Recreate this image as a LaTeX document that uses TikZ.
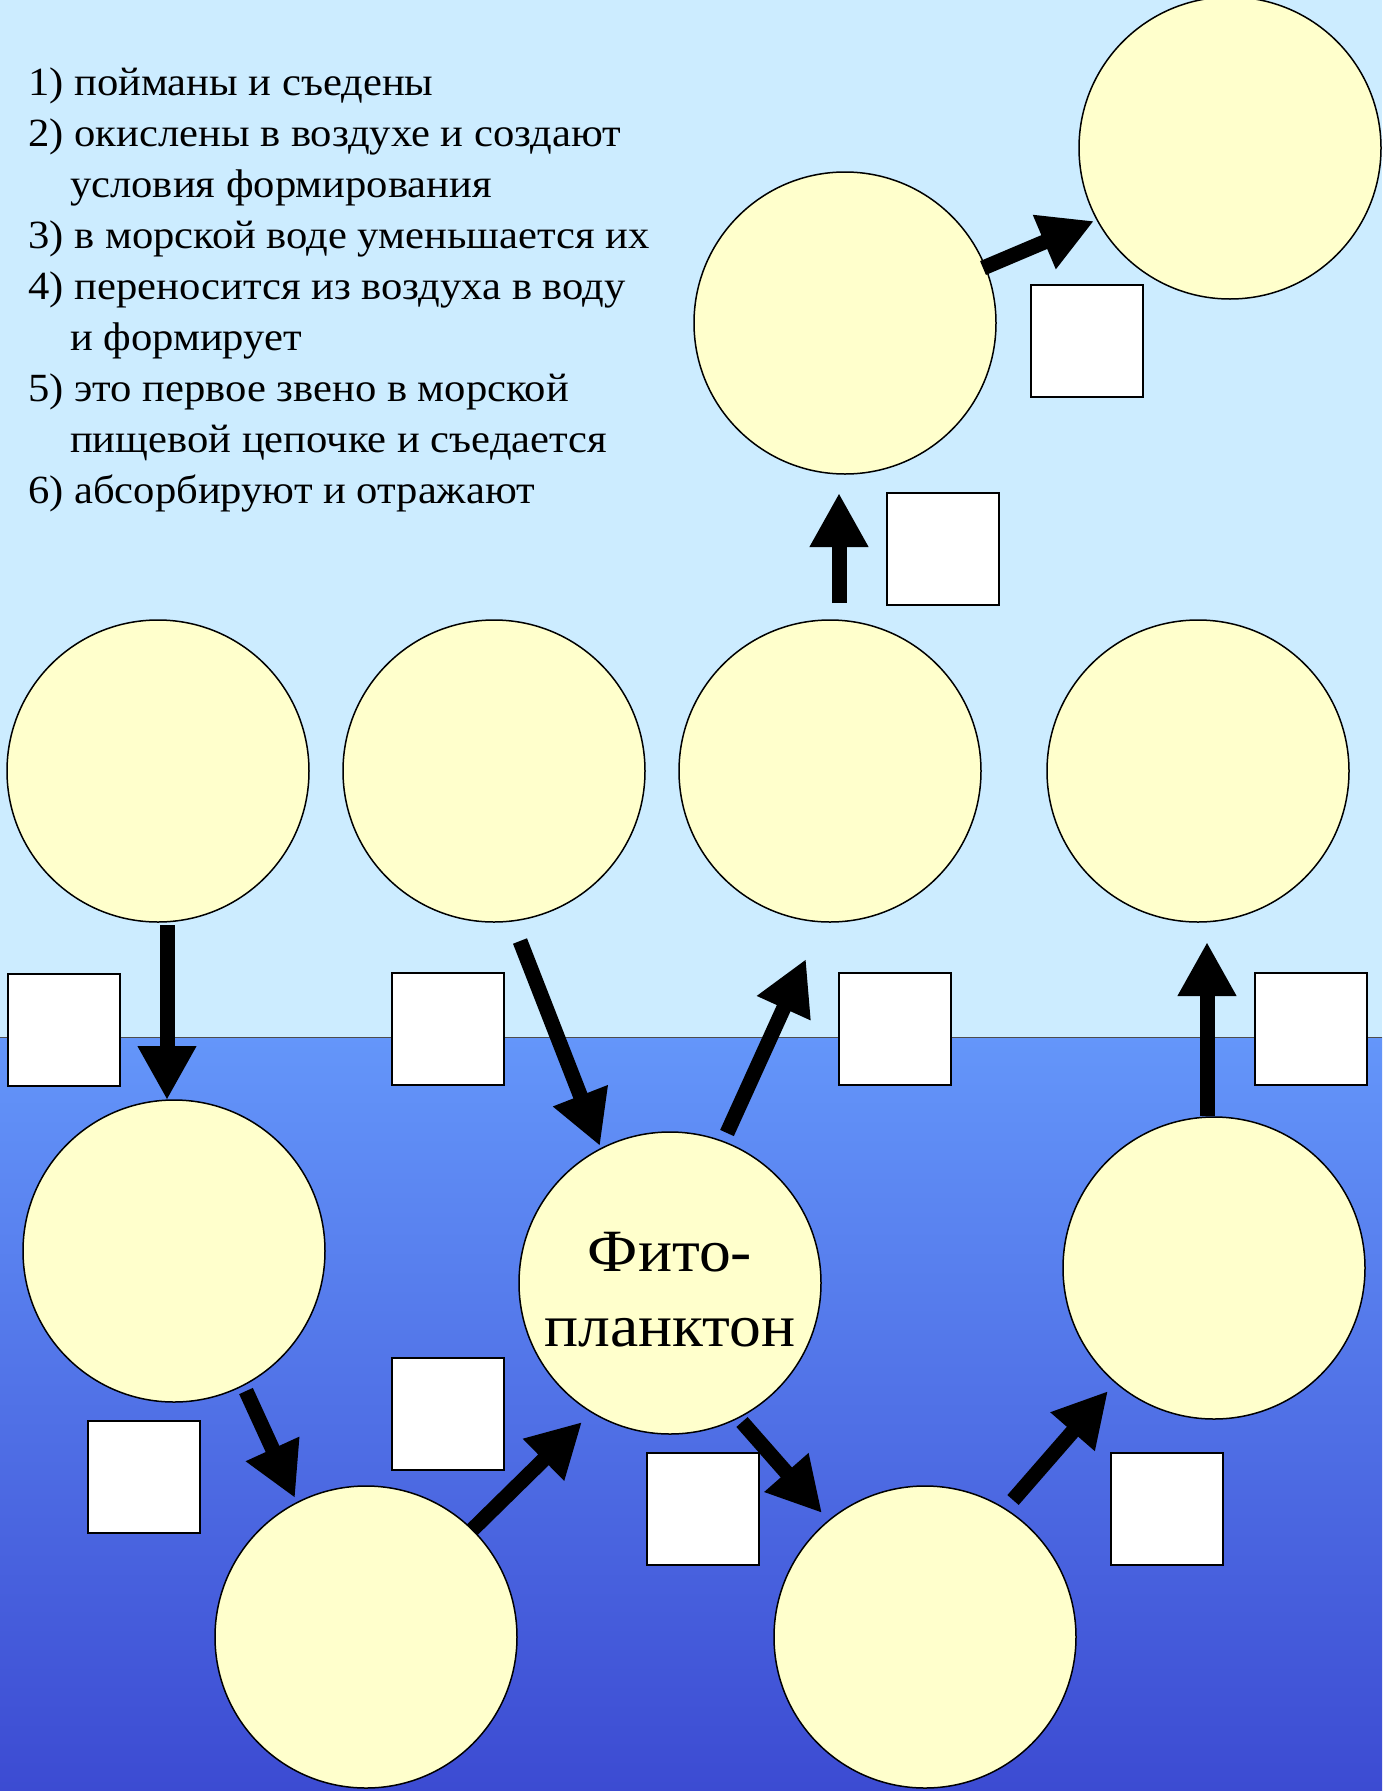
\documentclass[tikz,border=0pt]{standalone}
\usepackage{fontspec}
\setmainfont{Liberation Serif}
\usetikzlibrary{arrows.meta}
\definecolor{sky}{HTML}{CCECFF}
\definecolor{seatop}{HTML}{6496FA}
\definecolor{seabot}{HTML}{3C4BD2}
\definecolor{cream}{HTML}{FFFFCC}
\newcommand{\listwide}[1]{\scalebox{1.065}[1]{#1}}
\newcommand{\phywide}[1]{\scalebox{1.06}[1]{#1}}
\begin{document}
\begin{tikzpicture}[x=1pt,y=-1pt,
  blob/.style={circle,draw=black,line width=1.5pt,fill=cream,minimum size=302pt,inner sep=0pt},
  sq/.style={draw=black,line width=2pt,fill=white,minimum size=112pt,inner sep=0pt},
  arr/.style={line width=15pt,-{Triangle[length=54pt,width=55pt]}},
  lst/.style={anchor=base west,inner sep=0pt,font=\fontsize{40}{48}\selectfont}]
\useasboundingbox (0,0) rectangle (1382,1791);
\fill[sky] (0,0) rectangle (1382,1037);
\shade[top color=seatop,bottom color=seabot] (0,1037) rectangle (1382,1791);
\draw[line width=1pt,black!70] (0,1037) -- (1382,1037);

% list
\node[lst] (l1) at (28,95) {\listwide{1) пойманы и съедены}};
\node[lst] (l2) at (28,146) {\listwide{2) окислены в воздухе и создают}};
\node[lst] (l3) at (70,197) {\listwide{условия формирования}};
\node[lst] (l4) at (28,248) {\listwide{3) в морской воде уменьшается их}};
\node[lst] (l5) at (28,299) {\listwide{4) переносится из воздуха в воду}};
\node[lst] (l6) at (70,350) {\listwide{и формирует}};
\node[lst] (l7) at (28,401) {\listwide{5) это первое звено в морской}};
\node[lst] (l8) at (70,452) {\listwide{пищевой цепочке и съедается}};
\node[lst] (l9) at (28,503) {\listwide{6) абсорбируют и отражают}};

% circles
\node[blob] (ctr) at (1230,148) {};
\node[blob] (cum) at (845,323) {};
\node[blob] (ca) at (158,771) {};
\node[blob] (cb) at (494,771) {};
\node[blob] (cc) at (830,771) {};
\node[blob] (cd) at (1198,771) {};
\node[blob] (ce) at (174,1251) {};
\node[blob] (phy) at (670,1283) {};
\node[font=\fontsize{60}{75}\selectfont,align=center,inner sep=0pt] (phyt) at (670,1290) {\phywide{Фито-}\\\phywide{планктон}};
\node[blob] (cf) at (1214,1268) {};
\node[blob] (cg) at (366,1637) {};
\node[blob] (ch) at (925,1637) {};

% squares
\node[sq] (s1) at (1087,341) {};
\node[sq] (s2) at (943,549) {};
\node[sq] (s3) at (64,1030) {};
\node[sq] (s4) at (447.5,1029) {};
\node[sq] (s5) at (895,1029) {};
\node[sq] (s6) at (1311,1029) {};
\node[sq] (s7) at (143.5,1477) {};
\node[sq] (s8) at (447.5,1413.5) {};
\node[sq] (s9) at (703,1509) {};
\node[sq] (s10) at (1166.5,1509) {};

% arrow end points
\coordinate (a1t) at (167,925);  \coordinate (a1h) at (167,1100);
\coordinate (a2t) at (520,941);  \coordinate (a2h) at (600,1146);
\coordinate (a3t) at (727,1133); \coordinate (a3h) at (806,959);
\coordinate (a4t) at (1207,1116);\coordinate (a4h) at (1207,942);
\coordinate (a5t) at (839,603);  \coordinate (a5h) at (839,493);
\coordinate (a6t) at (983,268);  \coordinate (a6h) at (1094,221);
\coordinate (a7t) at (246,1391); \coordinate (a7h) at (295,1498);
\coordinate (a8t) at (472,1530); \coordinate (a8h) at (582,1422);
\coordinate (a9t) at (742,1422); \coordinate (a9h) at (822,1513);
\coordinate (a10t) at (1013,1500); \coordinate (a10h) at (1108,1391);

\foreach \i in {1,...,10} {\draw[arr] (a\i t) -- (a\i h);}
\end{tikzpicture}
\end{document}
